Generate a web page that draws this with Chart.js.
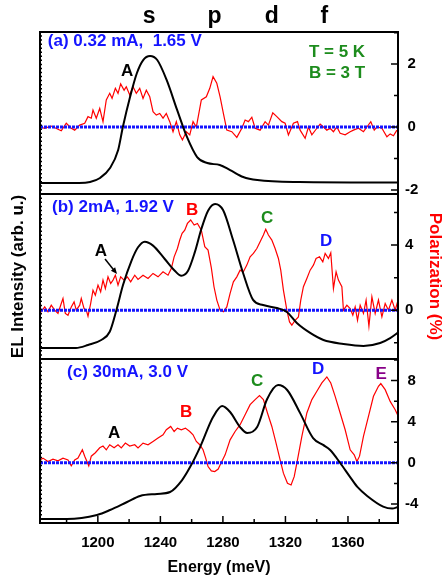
<!DOCTYPE html>
<html>
<head>
<meta charset="utf-8">
<title>EL intensity and polarization</title>
<script src="https://cdn.jsdelivr.net/npm/chart.js@4.4.0/dist/chart.umd.min.js"></script>
<style>
    html, body { margin: 0; padding: 0; background: #fff; }
    #wrap { position: relative; width: 443px; height: 581px; }
    #wrap canvas { position: absolute; left: 0; top: 0; }
</style>
</head>
<body>
<div id="wrap">
    <canvas id="panelA" width="443" height="581"></canvas>
    <canvas id="panelB" width="443" height="581"></canvas>
    <canvas id="panelC" width="443" height="581"></canvas>
</div>
<script>
/* ===============================
   DATA
=============================== */
const energyMin = 1163;
const energyMax = 1392;

// (a) 0.32 mA, 1.65 V
const elEnergyA = [1163, 1188, 1195, 1201.4, 1207.8, 1213, 1216, 1220.6, 1225, 1229, 1233.4, 1238, 1244, 1250.7, 1257, 1263.5, 1270, 1278, 1284.6, 1293, 1302, 1329, 1392];
const elIntensityA = [0.068, 0.068, 0.074, 0.099, 0.16, 0.272, 0.414, 0.599, 0.747, 0.827, 0.852, 0.827, 0.704, 0.519, 0.352, 0.228, 0.191, 0.179, 0.148, 0.105, 0.086, 0.074, 0.071];

const polEnergyA = [1163, 1166, 1170.2, 1174.5, 1176.6, 1179.8, 1183, 1185.2, 1188.4, 1191.6,
    1193.7, 1195.8, 1196.9, 1199, 1201.2, 1203.3, 1205.4, 1207.6, 1209.1, 1211.2,
    1212.9, 1214.6, 1216.8, 1218.2, 1220.4, 1222.5, 1224.6, 1226.8, 1228.9, 1231,
    1233.2, 1235.3, 1237.4, 1239.6, 1241.7, 1243.8, 1246, 1248.1, 1250.2, 1252.4,
    1254.1, 1256.6, 1258.8, 1260.9, 1263, 1266.2, 1269.4, 1271.6, 1273.7,
    1276.1, 1278.2, 1280.3, 1282.5, 1285.7, 1288.9, 1292.1, 1294.2, 1296.3, 1298.5,
    1300.6, 1303.8, 1307, 1309.1, 1311.9, 1314.5, 1317.7, 1319.8, 1321.9, 1325.1,
    1327.7, 1329.4, 1332.6, 1334.7, 1336.9, 1340.1, 1342.2, 1344.3, 1346.5, 1348.6,
    1350.7, 1352.9, 1355, 1358.2, 1361.4, 1363.5, 1366.7, 1369.9, 1372.1, 1374.6,
    1376.8, 1378.5, 1381.7, 1384.9, 1387, 1389.1, 1391.3];
const polarizationA = [0, -0.04, 0.03, -0.07, -0.12, 0.12, -0.04, -0.1, 0.06, 0.12,
    0.33, 0.28, 0.54, 0.28, 0.59, 0.17, 0.86, 1.07, 0.91, 1.23,
    1.07, 1.37, 1.17, 1.28, 1.02, 1.28, 1.07, 1.23, 0.91, 1.17,
    0.96, 0.49, 0.38, 0.43, 0.28, 0.43, 0.17, -0.15, 0.17, -0.25,
    -0.41, -0.15, -0.25, 0.17, 0, 0.86, 0.96, 1.23, 1.6,
    1.39, 0.96, 0.43, -0.1, -0.15, -0.33, -0.04, 0.22, 0.17, 0.31,
    -0.04, -0.1, 0.17, 0.06, 0.45, 0.33, 0.17, 0.12, -0.25, 0.12,
    0.17, -0.1, -0.36, 0, -0.25, -0.04, 0.09, 0, -0.1, -0.04,
    -0.15, 0, -0.2, -0.25, -0.15, -0.1, -0.04, -0.15, 0, 0.17,
    -0.1, 0, -0.04, -0.31, -0.22, -0.28, -0.1];

// (b) 2mA, 1.92 V
const elEnergyB = [1163, 1186, 1193.7, 1202.2, 1207.6, 1211.9, 1216.1, 1221.5, 1225.7, 1230, 1235.3, 1242.8, 1249.2, 1253.4, 1257.7, 1262, 1266.2, 1270.5, 1275, 1280.1, 1286.5, 1292.9, 1299.3, 1305.7, 1314.5, 1320.9, 1327.3, 1335.8, 1344.3, 1357.1, 1369.9, 1380.6, 1387, 1392];
const elIntensityB = [0.067, 0.067, 0.085, 0.115, 0.165, 0.297, 0.448, 0.595, 0.677, 0.711, 0.687, 0.606, 0.535, 0.505, 0.535, 0.646, 0.788, 0.899, 0.94, 0.903, 0.721, 0.521, 0.358, 0.327, 0.309, 0.285, 0.218, 0.158, 0.115, 0.091, 0.079, 0.097, 0.127, 0.16];

const polEnergyB = [1163, 1163.8, 1166, 1168.1, 1170.2, 1172.4, 1174.5, 1176.6, 1177.7, 1179.2,
    1180.9, 1183, 1184.8, 1186.2, 1188.4, 1189.4, 1191.2, 1192.6, 1193.7, 1195.4,
    1196.9, 1198.4, 1200.1, 1201.8, 1203.3, 1204.8, 1206.5, 1208.2, 1209.7, 1211.2,
    1212.9, 1214.6, 1216.8, 1218.9, 1221, 1223.6, 1225.7, 1228.9, 1232.1, 1235.3,
    1238.5, 1241.7, 1244.9, 1247, 1248.8, 1250.9, 1252.4, 1253.9, 1255.6, 1257.3,
    1259.4, 1261.6, 1263.7, 1266.2, 1268.4, 1270.5, 1272.6, 1274.3, 1276.1, 1278.2,
    1280.3, 1282.5, 1284.6, 1286.7, 1288.9, 1291, 1293.1, 1295.3, 1297.4, 1299.5,
    1301.7, 1303.8, 1305.9, 1307.4, 1309.1, 1311.3, 1313.4, 1315.5, 1317, 1318.7,
    1320.9, 1322.6, 1324.1, 1326.2, 1328.3, 1329.8, 1331.5, 1333.7, 1335.8, 1337.9,
    1339.6, 1341.8, 1343.9, 1345.4, 1347.5, 1349, 1350.7, 1352.4, 1353.9, 1356.1,
    1357.1, 1359.3, 1361.4, 1363.1, 1364.6, 1366.1, 1367.8, 1369.9, 1371.6, 1373.4,
    1375.3, 1377.4, 1379.5, 1381.7, 1383.8, 1385.9, 1388.1, 1390.2, 1391.7];
const polarizationB = [0, -0.1, 0.2, -0.1, 0.31, 0, -0.2, 0.41, 0.72, -0.2,
    -0.31, 0.2, 0.51, 0, 0.31, 0.72, 0.1, 0, -0.37, 0.41,
    1.23, 0.92, 1.54, 1.13, 1.85, 1.33, 2.05, 1.64, 1.85, 2.15,
    1.54, 2.05, 1.85, 2.05, 1.74, 2.15, 1.89, 2.15, 1.95, 2.26,
    2.05, 2.36, 2.15, 2.56, 3.28, 3.79, 4.31, 4.72, 4.92, 5.33,
    5.54, 5.23, 5.33, 4.92, 3.9, 3.69, 2.6, 1.44, 0.62, 0,
    -0.1, 0.2, 1.03, 1.74, 2.05, 2.46, 2.36, 2.77, 3.28, 3.49,
    3.79, 4.2, 4.62, 4.97, 4.62, 4.31, 3.79, 3.18, 2.46, 1.23,
    0, -0.72, -0.92, -0.62, -0.41, 0.62, 1.44, 1.95, 2.46, 2.77,
    3.18, 3.28, 2.97, 3.49, 3.18, 3.53, 1.33, 2.36, 1.85, 1.44,
    0, 0.31, 0.1, -0.31, 0.2, -0.62, 0.31, -0.2, 0.62, -0.98,
    0.82, -0.2, 0.62, -0.41, 0.41, 0, 0.62, 0, 0.51];

// (c) 30mA, 3.0 V
const elEnergyC = [1163, 1180.3, 1199.5, 1207.8, 1218.7, 1227, 1237.9, 1246.2, 1253.9, 1259, 1265.4, 1273.7, 1279.5, 1284.6, 1291, 1295.5, 1301.9, 1308.3, 1315.3, 1321.1, 1329.4, 1337.7, 1344.1, 1348.6, 1355, 1361.4, 1366, 1372.3, 1382.5, 1388.3, 1392];
const elIntensityC = [0.024, 0.024, 0.049, 0.079, 0.128, 0.165, 0.177, 0.189, 0.262, 0.341, 0.463, 0.646, 0.713, 0.677, 0.585, 0.549, 0.585, 0.756, 0.841, 0.811, 0.67, 0.518, 0.476, 0.445, 0.366, 0.28, 0.22, 0.165, 0.1, 0.088, 0.098];

const polEnergyC = [1163, 1164.9, 1168.1, 1171.3, 1174.5, 1177.7, 1180.9, 1183, 1185.2, 1187.3,
    1190.1, 1191.6, 1194.2, 1195.8, 1198.4, 1201.2, 1203.3, 1205.4, 1207.6, 1210.4,
    1212.9, 1215, 1217.6, 1220.4, 1223.6, 1225.7, 1228.9, 1232.1, 1235.3, 1238.5,
    1241.7, 1243.8, 1246.6, 1248.8, 1250.9, 1253.4, 1256, 1258.8, 1260.9, 1263,
    1265.2, 1267.3, 1269, 1270.5, 1272.6, 1274.8, 1277, 1278.2, 1281.4, 1284.6,
    1287.8, 1291, 1294.2, 1297.4, 1300.6, 1303.4, 1305.9, 1308.5, 1311.3, 1314,
    1316.6, 1318.7, 1321.3, 1323.6, 1325.6, 1327.7, 1330.5, 1333.7, 1336.9, 1340.1,
    1343.3, 1346.5, 1349, 1351.8, 1355, 1358.2, 1361.4, 1364, 1365.7, 1367.4,
    1369.9, 1373.1, 1376.3, 1379.5, 1381, 1383.8, 1387, 1390.2, 1392];
const polarizationC = [0.29, 0.46, 0.13, 0.36, 0.2, 0.46, 0.29, -0.29, 0.29, 0.46,
    1.27, 0.65, -0.29, 0.65, 0.98, 1.46, 1.63, 1.27, 1.76, 1.46,
    1.76, 1.46, 1.92, 1.63, 1.76, 1.46, 1.92, 1.76, 2.08, 2.41,
    2.73, 3.22, 3.54, 3.05, 3.38, 3.22, 3.38, 3.05, 2.73, 2.08,
    1.76, 1.27, 0.46, -0.36, -0.78, -0.85, -0.6, -0.2, 0.78, 2.24,
    3.05, 3.71, 4.68, 5.66, 6.15, 6.54, 6.15, 4.85, 3.54, 1.92,
    0.29, -1.0, -1.98, -2.15, -1.34, 0.29, 2.57, 4.85, 6.15, 6.96,
    7.77, 8.36, 7.77, 6.47, 4.85, 3.22, 1.27, 0.78, 0.13, 0.65,
    2.57, 4.52, 6.47, 7.44, 7.71, 7.12, 5.98, 5.17, 4.59];

// polarization axis of each panel: range, tick step, labelled step
const polRangeA = [-2.13, 3.02, 1, 2];
const polRangeB = [-3.0, 7.14, 2, 4];
const polRangeC = [-5.85, 10.1, 2, 4];

/* ===============================
   STYLE
=============================== */
const FONT = "'Liberation Sans', Arial, Helvetica, sans-serif";
const RED = "#ff0000";
const BLUE = "#1414ff";
const GREEN = "#1d8c1d";
const PURPLE = "#880088";

Chart.defaults.font.family = FONT;

function points(xs, ys) {
    return xs.map((x, i) => ({ x: x, y: ys[i] }));
}

/* frame + inward tick marks */
const framePlugin = {
    id: "frame",
    afterDatasetsDraw(chart) {
        const { ctx, chartArea: a } = chart;
        const pol = chart.scales.pol;
        const el = chart.scales.el;
        const x = chart.scales.x;
        const labelStep = chart.config.options.labelStep;

        ctx.save();
        ctx.strokeStyle = "#000";
        ctx.lineWidth = 1.5;
        ctx.beginPath();

        // right axis
        pol.ticks.forEach(t => {
            const y = pol.getPixelForValue(t.value);
            const major = Math.abs(t.value / labelStep - Math.round(t.value / labelStep)) < 1e-6;
            ctx.moveTo(a.right, y);
            ctx.lineTo(a.right - (major ? 7 : 4), y);
        });

        // left axis, fine ticks
        for (let i = 0; i <= 40; i++) {
            const y = el.getPixelForValue(i / 40);
            ctx.moveTo(a.left, y);
            ctx.lineTo(a.left + 2, y);
        }

        // bottom axis (only where it is shown)
        if (x.options.display) {
            x.ticks.forEach(t => {
                const px = x.getPixelForValue(t.value);
                ctx.moveTo(px, a.bottom);
                ctx.lineTo(px, a.bottom - (t.value % 40 === 0 ? 7 : 4));
            });
        }
        ctx.stroke();

        ctx.lineWidth = 2;
        ctx.strokeRect(a.left, a.top, a.right - a.left, a.bottom - a.top);
        ctx.restore();
    }
};

/* text labels placed in data units (energy, polarization) */
function labelPlugin(items, arrows) {
    return {
        id: "labels",
        afterDraw(chart) {
            const ctx = chart.ctx;
            const x = chart.scales.x;
            const pol = chart.scales.pol;
            ctx.save();
            items.forEach(it => {
                ctx.font = "bold " + it.size + "px " + FONT;
                ctx.fillStyle = it.color;
                ctx.textAlign = it.align || "center";
                ctx.textBaseline = "middle";
                ctx.fillText(it.text, x.getPixelForValue(it.e), pol.getPixelForValue(it.p));
            });
            (arrows || []).forEach(ar => {
                const x0 = x.getPixelForValue(ar.from[0]);
                const y0 = pol.getPixelForValue(ar.from[1]);
                const x1 = x.getPixelForValue(ar.to[0]);
                const y1 = pol.getPixelForValue(ar.to[1]);
                const ang = Math.atan2(y1 - y0, x1 - x0);
                ctx.strokeStyle = "#000";
                ctx.fillStyle = "#000";
                ctx.lineWidth = 1.5;
                ctx.beginPath();
                ctx.moveTo(x0, y0);
                ctx.lineTo(x1 - 4 * Math.cos(ang), y1 - 4 * Math.sin(ang));
                ctx.stroke();
                ctx.beginPath();
                ctx.moveTo(x1, y1);
                ctx.lineTo(x1 - 7 * Math.cos(ang - 0.4), y1 - 7 * Math.sin(ang - 0.4));
                ctx.lineTo(x1 - 7 * Math.cos(ang + 0.4), y1 - 7 * Math.sin(ang + 0.4));
                ctx.closePath();
                ctx.fill();
            });
            ctx.restore();
        }
    };
}

/* ===============================
   PANEL
=============================== */
function makePanel(id, cfg) {
    const [pMin, pMax, pStep, pLabel] = cfg.range;
    const tickFont = { family: FONT, size: 15, weight: "bold" };

    return new Chart(document.getElementById(id), {
        type: "line",
        data: {
            datasets: [
                {
                    data: points(cfg.elE, cfg.elI),
                    yAxisID: "el",
                    borderColor: "#000",
                    borderWidth: 2,
                    pointRadius: 0,
                    cubicInterpolationMode: "monotone"
                },
                {
                    data: [{ x: energyMin, y: 0 }, { x: energyMax, y: 0 }],
                    yAxisID: "pol",
                    borderColor: BLUE,
                    borderWidth: 3,
                    borderDash: [3, 1],
                    pointRadius: 0
                },
                {
                    data: points(cfg.polE, cfg.polP),
                    yAxisID: "pol",
                    borderColor: RED,
                    borderWidth: 1.2,
                    pointRadius: 0,
                    tension: 0
                }
            ]
        },
        options: {
            responsive: false,
            devicePixelRatio: 1,
            animation: false,
            labelStep: pLabel,
            layout: { padding: { top: cfg.top, bottom: cfg.bottom, left: 0, right: 0 } },
            plugins: {
                legend: { display: false },
                tooltip: { enabled: false }
            },
            scales: {
                x: {
                    type: "linear",
                    min: energyMin,
                    max: energyMax,
                    display: cfg.showX,
                    grid: { display: false, drawTicks: false },
                    border: { display: false },
                    ticks: {
                        stepSize: 20,
                        includeBounds: false,
                        autoSkip: false,
                        maxRotation: 0,
                        padding: 11,
                        color: "#000",
                        font: tickFont,
                        callback: v => (v % 40 === 0 ? v : "")
                    },
                    title: {
                        display: cfg.showX,
                        text: "Energy (meV)",
                        color: "#000",
                        font: { family: FONT, size: 16, weight: "bold" },
                        padding: { top: 0, bottom: 4 }
                    },
                    afterFit: s => { s.height = cfg.showX ? 58 : 0; }
                },
                el: {
                    type: "linear",
                    position: "left",
                    min: 0,
                    max: 1,
                    grid: { display: false, drawTicks: false },
                    border: { display: false },
                    ticks: { display: false },
                    title: {
                        display: cfg.showTitles,
                        text: "EL Intensity (arb. u.)",
                        color: "#000",
                        font: { family: FONT, size: 17, weight: "bold" },
                        padding: { top: 8, bottom: 0 }
                    },
                    afterFit: s => { s.width = 40; }
                },
                pol: {
                    type: "linear",
                    position: "right",
                    min: pMin,
                    max: pMax,
                    grid: { display: false, drawTicks: false },
                    border: { display: false },
                    ticks: {
                        stepSize: pStep,
                        includeBounds: false,
                        autoSkip: false,
                        crossAlign: "center",
                        padding: 7,
                        color: "#000",
                        font: tickFont,
                        callback: v => (Math.abs(v / pLabel - Math.round(v / pLabel)) < 1e-6 ? v : "")
                    },
                    title: {
                        display: cfg.showTitles,
                        text: "Polarization (%)",
                        color: RED,
                        font: { family: FONT, size: 17, weight: "bold", lineHeight: 1 },
                        padding: { top: 0, bottom: 0 }
                    },
                    afterFit: s => { s.width = 45; }
                }
            }
        },
        plugins: [framePlugin, labelPlugin(cfg.labels, cfg.arrows)]
    });
}

/* ===============================
   DRAW
=============================== */
makePanel("panelA", {
    elE: elEnergyA, elI: elIntensityA, polE: polEnergyA, polP: polarizationA,
    range: polRangeA, top: 32, bottom: 387, showX: false, showTitles: false,
    labels: [
        { text: "(a) 0.32 mA,  1.65 V", e: 1168, p: 2.73, color: BLUE, size: 17, align: "left" },
        { text: "T = 5 K", e: 1353, p: 2.38, color: GREEN, size: 17 },
        { text: "B = 3 T", e: 1353, p: 1.71, color: GREEN, size: 17 },
        { text: "A", e: 1218.7, p: 1.78, color: "#000", size: 17 },
        { text: "s", e: 1232.8, p: 3.51, color: "#000", size: 23 },
        { text: "p", e: 1274.7, p: 3.51, color: "#000", size: 23 },
        { text: "d", e: 1311.2, p: 3.51, color: "#000", size: 23 },
        { text: "f", e: 1344.8, p: 3.51, color: "#000", size: 23 }
    ]
});

makePanel("panelB", {
    elE: elEnergyB, elI: elIntensityB, polE: polEnergyB, polP: polarizationB,
    range: polRangeB, top: 194, bottom: 222, showX: false, showTitles: true,
    labels: [
        { text: "(b) 2mA, 1.92 V", e: 1170.7, p: 6.34, color: BLUE, size: 17, align: "left" },
        { text: "A", e: 1202, p: 3.63, color: "#000", size: 17 },
        { text: "B", e: 1260.3, p: 6.15, color: RED, size: 17 },
        { text: "C", e: 1308.3, p: 5.66, color: GREEN, size: 17 },
        { text: "D", e: 1346, p: 4.25, color: BLUE, size: 17 }
    ],
    arrows: [{ from: [1204.6, 3.14], to: [1212.3, 2.22] }]
});

makePanel("panelC", {
    elE: elEnergyC, elI: elIntensityC, polE: polEnergyC, polP: polarizationC,
    range: polRangeC, top: 359, bottom: 0, showX: true, showTitles: false,
    labels: [
        { text: "(c) 30mA, 3.0 V", e: 1180.3, p: 8.78, color: BLUE, size: 17, align: "left" },
        { text: "A", e: 1210.4, p: 2.83, color: "#000", size: 17 },
        { text: "B", e: 1256.4, p: 4.88, color: RED, size: 17 },
        { text: "C", e: 1301.9, p: 7.9, color: GREEN, size: 17 },
        { text: "D", e: 1340.9, p: 9.07, color: BLUE, size: 17 },
        { text: "E", e: 1381.2, p: 8.59, color: PURPLE, size: 17 }
    ]
});
</script>
</body>
</html>
